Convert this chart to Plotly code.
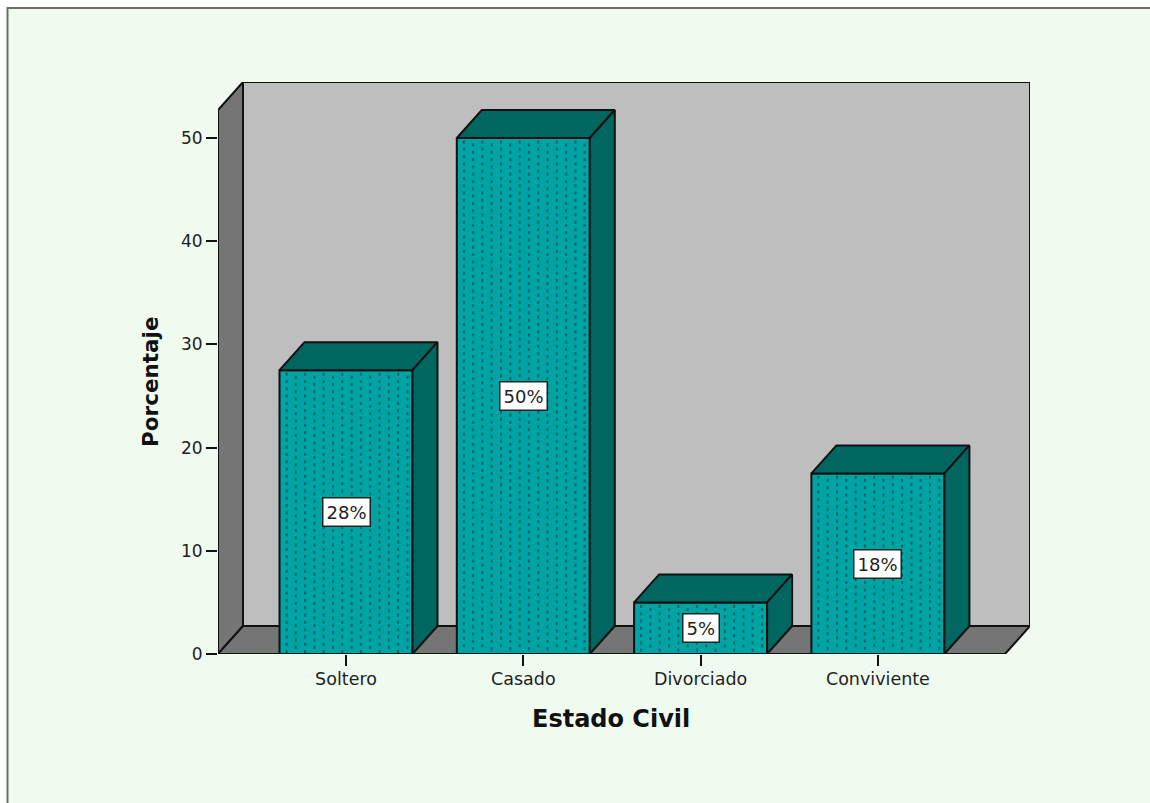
import plotly.graph_objects as go

categories = ["Soltero", "Casado", "Divorciado", "Conviviente"]
percentages = [27.5, 50, 5, 17.5]
labels = ["28%", "50%", "5%", "18%"]
y_ticks = [0, 10, 20, 30, 40, 50]
x_title = "Estado Civil"
y_title = "Porcentaje"

L, R, T, B = 218, 1030, 82, 654
PX = 177.3
PY = 10.32
DX, DY = 25 / PX, 28 / PY
BW = 133 / PX
x0 = (L - 346) / PX
x_end = x0 + (R - L) / PX
top = (B - T) / PY
wall = top - DY
line = dict(color="#111111", width=2)
FONT = "DejaVu Sans"
TEAL = "#00A4A4"
DARK = "#006660"

fig = go.Figure()

def poly(xs, ys, color):
    return dict(type="path", layer="below", xref="x", yref="y", fillcolor=color, line=line,
                path="M" + " L".join(f"{a},{b}" for a, b in zip(xs, ys)) + " Z")

shapes = [
    dict(type="rect", xref="paper", yref="paper", layer="below",
         x0=(7.5 - L) / (R - L), x1=1.02 + (1150 - R) / (R - L),
         y0=-0.3, y1=1 + (T - 8) / (B - T),
         fillcolor="#F0FBF0", line=dict(color="#6E6E6E", width=2)),
    poly([x0 + DX, x_end, x_end, x0 + DX], [DY, DY, top, top], "#BEBEBE"),
    poly([x0, x0 + DX, x0 + DX, x0], [0, DY, top, wall], "#757575"),
    poly([x0, x0 + DX, x_end, x_end - DX], [0, DY, DY, 0], "#757575"),
]

fig.add_trace(go.Bar(
    x=list(range(len(categories))), y=percentages, width=BW,
    marker=dict(color=TEAL, line=line),
    hoverinfo="skip", showlegend=False))

# Dotted fill of each bar's front face, laid out from the bar's own height.
COL_STEP, ROW_STEP = 9.3 / PX, 7.3 / PY
for i, v in enumerate(percentages):
    xs, ys = [], []
    for c in range(14):
        x = i - BW / 2 + (7 / PX) + c * COL_STEP
        y = v - (4 / PY if c % 2 == 0 else 7 / PY)
        while y > 1.5 / PY:
            xs.append(x)
            ys.append(y)
            y -= ROW_STEP
    fig.add_trace(go.Scatter(x=xs, y=ys, mode="markers", hoverinfo="skip", showlegend=False,
                             marker=dict(symbol="line-ns", size=2.2, line=dict(color=DARK, width=2))))

for i, v in enumerate(percentages):
    a, b = i - BW / 2, i + BW / 2
    fig.add_trace(go.Scatter(x=[a, a + DX, b + DX, b, a], y=[v, v + DY, v + DY, v, v], mode="lines",
                             fill="toself", fillcolor=DARK, line=line, hoverinfo="skip", showlegend=False))
    fig.add_trace(go.Scatter(x=[b, b + DX, b + DX, b, b], y=[v, v + DY, DY, 0, v], mode="lines",
                             fill="toself", fillcolor=DARK, line=line, hoverinfo="skip", showlegend=False))

annotations = [dict(x=i, y=v / 2, xref="x", yref="y", text=t, showarrow=False, bgcolor="white",
                    bordercolor="#222222", borderwidth=1.5, borderpad=3,
                    font=dict(family=FONT, size=18, color="#222222"))
               for i, (v, t) in enumerate(zip(percentages, labels))]
annotations += [
    dict(x=(611 - L) / (R - L), y=(B - 719) / (B - T), xref="paper", yref="paper", text=f"<b>{x_title}</b>",
         xanchor="center", yanchor="middle", showarrow=False, font=dict(family=FONT, size=24, color="#111111")),
    dict(x=(150 - L) / (R - L), y=(B - 382) / (B - T), xref="paper", yref="paper", text=f"<b>{y_title}</b>",
         xanchor="center", yanchor="middle", textangle=-90, showarrow=False,
         font=dict(family=FONT, size=21.5, color="#111111")),
]
shapes.append(dict(type="line", xref="x", yref="y", x0=x0, x1=x_end - DX, y0=0, y1=0, line=line))

fig.update_layout(
    width=1150, height=803, autosize=False, paper_bgcolor="white", plot_bgcolor="rgba(0,0,0,0)",
    margin=dict(l=L, r=1150 - R, t=T, b=803 - B, pad=0), showlegend=False,
    shapes=shapes, annotations=annotations,
    xaxis=dict(range=[x0, x_end], tickmode="array", tickvals=list(range(len(categories))), ticktext=categories,
               ticks="outside", ticklen=11, tickwidth=2, tickcolor="#111111", showgrid=False, zeroline=False,
               showline=False, ticklabelstandoff=-2, tickfont=dict(family=FONT, size=17.5, color="#222222")),
    yaxis=dict(range=[0, top], tickmode="array", tickvals=y_ticks, ticks="outside", ticklen=11, tickwidth=2,
               tickcolor="#111111", showgrid=False, zeroline=False, showline=False,
               tickfont=dict(family=FONT, size=17, color="#222222")),
)
fig.write_html("out.html", config=dict(displayModeBar=False),
               post_script="document.body.style.margin='0';document.body.style.overflow='hidden';")
